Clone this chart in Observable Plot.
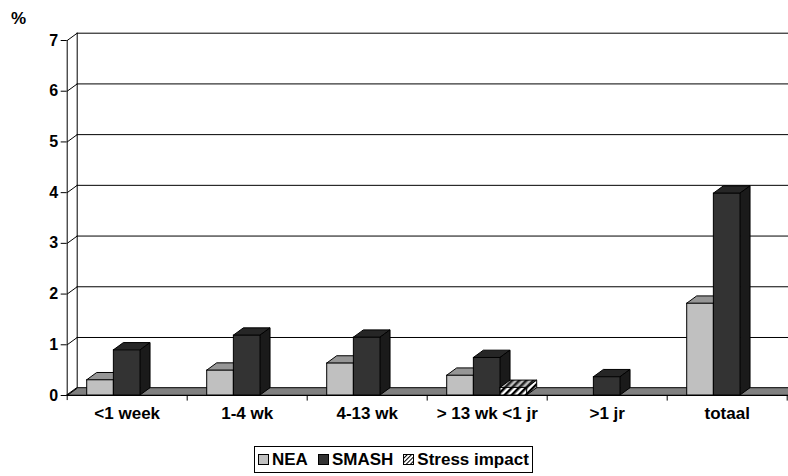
<!DOCTYPE html>
<html>
<head>
<meta charset="utf-8">
<script src="https://cdn.jsdelivr.net/npm/d3@7"></script>
<script src="https://cdn.jsdelivr.net/npm/@observablehq/plot@0.6"></script>
<style>
  html, body { margin: 0; padding: 0; background: #fff; overflow: hidden; }
  #wrap { position: relative; width: 788px; height: 476px; font-family: "Liberation Sans", Arial, sans-serif; }
  #pct { position: absolute; left: 11px; top: 9px; font-weight: bold; font-size: 17px; }
  #legend { position: absolute; left: 254px; top: 446px; height: 25px; border: 1px solid #000;
            display: flex; align-items: center; padding: 0 3px 0 3px; font-weight: bold; font-size: 17px; white-space: nowrap; }
  #legend .sw { width: 9px; height: 9px; border: 1px solid #000; margin-right: 3px; }
  #legend .it { display: flex; align-items: center; margin-right: 10px; }
  #legend .it:last-child { margin-right: 0; }
</style>
</head>
<body>
<svg width="0" height="0" style="position:absolute">
  <defs>
    <pattern id="hatch" patternUnits="userSpaceOnUse" width="5" height="5" patternTransform="rotate(45)">
      <rect width="5" height="5" fill="#fff"/>
      <rect width="2.5" height="5" fill="#000"/>
    </pattern>
    <pattern id="hatchTop" patternUnits="userSpaceOnUse" width="5" height="5" patternTransform="rotate(45)">
      <rect width="5" height="5" fill="#bbb"/>
      <rect width="2.5" height="5" fill="#222"/>
    </pattern>
    <pattern id="hatchLeg" patternUnits="userSpaceOnUse" width="3" height="3" patternTransform="rotate(45)">
      <rect width="3" height="3" fill="#fff"/>
      <rect width="1" height="3" fill="#000"/>
    </pattern>
  </defs>
</svg>
<div id="wrap">
  <div id="pct">%</div>
  <div id="chart"></div>
  <div id="legend"></div>
</div>
<script>
const categories = ["<1 week", "1-4 wk", "4-13 wk", "> 13 wk <1 jr", ">1 jr", "totaal"];
const series = ["NEA", "SMASH", "Stress impact"];
const neaValues = [0.30, 0.49, 0.63, 0.39, null, 1.81];
const smashValues = [0.89, 1.18, 1.14, 0.74, 0.36, 3.98];
const stressValues = [null, null, null, 0.15, null, null];
const yTicks = [0, 1, 2, 3, 4, 5, 6, 7];

const seriesValues = [neaValues, smashValues, stressValues];
const frontFill = ["#c0c0c0", "#333333", "url(#hatch)"];
const topFill = ["#969696", "#262626", "url(#hatchTop)"];
const sideFill = ["#7a7a7a", "#1a1a1a", "url(#hatch)"];
const legendFill = ["#c0c0c0", "#333333", "url(#hatchLeg)"];

const W = 788, H = 430;
const mL = 66.7, mR = 1.3, mT = 40, mB = 35;
const xPx = (W - mL - mR) / categories.length;
const yPx = (H - mT - mB) / 7;
const DX = 10 / xPx;      // depth offset in x units
const DY = 7.3 / yPx;     // depth offset in y units
const groupPad = 1 / 6;   // category padding
const barW = (1 - 2 * groupPad) / series.length;
const xEnd = categories.length + 0.3;

const bars = [];
series.forEach((s, j) => {
  seriesValues[j].forEach((v, i) => {
    if (v == null) return;
    const x1 = i + groupPad + j * barW, x2 = x1 + barW;
    bars.push({ s, j, i, v, x1, x2, id: s + i });
  });
});

const marks = [];
// floor
marks.push(Plot.areaX([{ y: 0, x1: 0, x2: xEnd }, { y: DY, x1: DX, x2: xEnd + DX }],
  { y: "y", x1: "x1", x2: "x2", fill: "#808080", stroke: "#000", strokeWidth: 1 }));
// back wall gridlines
marks.push(Plot.ruleY(yTicks.filter(d => d > 0), { y: d => d + DY, x1: DX, x2: xEnd + DX, stroke: "#000", strokeWidth: 1 }));
// side wall diagonals
marks.push(Plot.link(yTicks, { x1: 0, y1: d => d, x2: DX, y2: d => d + DY, stroke: "#000", strokeWidth: 1 }));
// side wall verticals
marks.push(Plot.ruleX([DX], { y1: DY, y2: 7 + DY, stroke: "#000", strokeWidth: 1 }));
marks.push(Plot.ruleX([0], { y1: -0.1, y2: 7, stroke: "#000", strokeWidth: 1 }));
// category boundary ticks
marks.push(Plot.ruleX(d3.range(1, categories.length + 1), { y1: 0, y2: -0.11, stroke: "#000", strokeWidth: 1 }));

// bars, series by series (painter order)
series.forEach((s, j) => {
  const b = bars.filter(d => d.j === j);
  const tops = b.flatMap(d => [
    { id: d.id, y: d.v, x1: d.x1, x2: d.x2 },
    { id: d.id, y: d.v + DY, x1: d.x1 + DX, x2: d.x2 + DX }
  ]);
  const sides = b.flatMap(d => [
    { id: d.id, x: d.x2, y1: 0, y2: d.v },
    { id: d.id, x: d.x2 + DX, y1: DY, y2: d.v + DY }
  ]);
  marks.push(Plot.areaX(tops, { y: "y", x1: "x1", x2: "x2", z: "id", fill: topFill[j], stroke: "#000", strokeWidth: 1 }));
  marks.push(Plot.areaY(sides, { x: "x", y1: "y1", y2: "y2", z: "id", fill: sideFill[j], stroke: "#000", strokeWidth: 1 }));
  marks.push(Plot.rect(b, { x1: "x1", x2: "x2", y1: 0, y2: "v", fill: frontFill[j], stroke: "#000", strokeWidth: 1 }));
});

// front floor edge
marks.push(Plot.ruleY([0], { x1: 0, x2: xEnd, stroke: "#000", strokeWidth: 1 }));
// y axis
marks.push(Plot.axisY(yTicks, { tickSize: 6, tickPadding: 3, fontSize: 16, fontWeight: "bold", label: null, stroke: "#000", tickFormat: d3.format("d") }));
// category labels
marks.push(Plot.text(categories, { x: (d, i) => i + 0.5, y: 0, dy: 18, fontSize: 17, fontWeight: "bold", fill: "#000" }));

const chart = Plot.plot({
  width: W, height: H,
  marginLeft: mL, marginRight: mR, marginTop: mT, marginBottom: mB,
  style: { fontFamily: "Liberation Sans, Arial, sans-serif", background: "transparent", color: "#000" },
  x: { domain: [0, categories.length], axis: null },
  y: { domain: [0, 7], axis: null },
  marks
});
document.getElementById("chart").appendChild(chart);

const legend = document.getElementById("legend");
series.forEach((s, j) => {
  const it = document.createElement("div");
  it.className = "it";
  const sw = document.createElement("div");
  sw.className = "sw";
  if (j === 2) {
    sw.style.border = "none";
    sw.innerHTML = '<svg width="11" height="11" style="display:block"><rect x="0.5" y="0.5" width="10" height="10" fill="url(#hatchLeg)" stroke="#000"/></svg>';
    sw.style.width = "11px"; sw.style.height = "11px";
  } else {
    sw.style.background = legendFill[j];
  }
  const t = document.createElement("span");
  t.textContent = s;
  it.appendChild(sw); it.appendChild(t);
  legend.appendChild(it);
});
</script>
</body>
</html>
